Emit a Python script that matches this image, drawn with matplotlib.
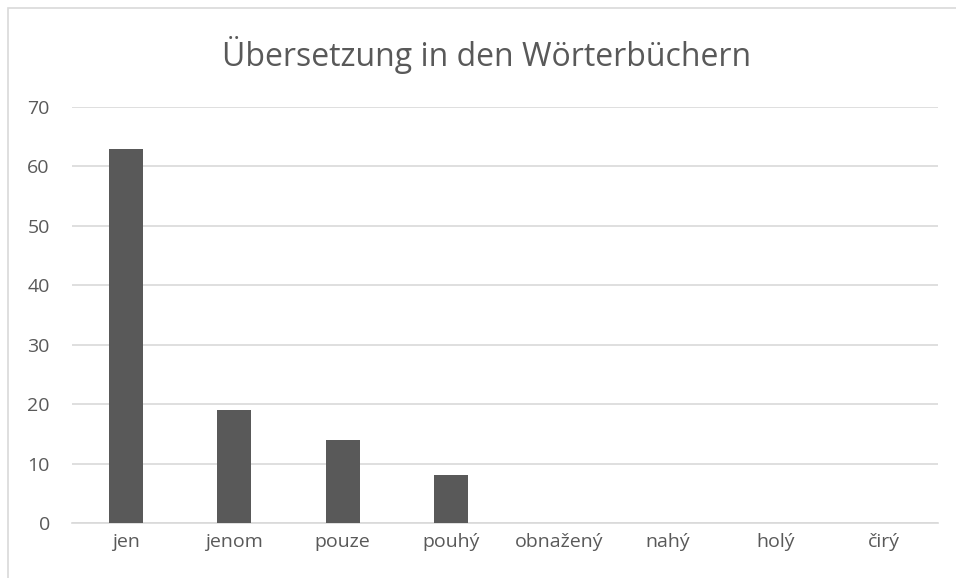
import matplotlib.pyplot as plt
from matplotlib.patches import Rectangle

categories = ['jen', 'jenom', 'pouze', 'pouhý', 'obnažený', 'nahý', 'holý', 'čirý']
counts = [63, 19, 14, 8, 0, 0, 0, 0]
yticks = [0, 10, 20, 30, 40, 50, 60, 70]

plt.rcParams['font.family'] = ['Open Sans', 'DejaVu Sans']
grey = '#595959'
light = '#d9d9d9'

fig = plt.figure(figsize=(9.56, 5.78), dpi=100)
ax = fig.add_axes([0.0753, 0.0952, 0.9059, 0.7197])

# outer chart border (cut off at right and bottom like the reference)
fig.patches.append(Rectangle((8 / 956, -0.1), 1.2, 1 - 8 / 578 + 0.1,
                             transform=fig.transFigure, fill=False,
                             edgecolor=light, linewidth=1.2))

x = range(len(categories))
ax.bar(x, counts, width=0.315, color=grey, zorder=3)

ax.set_xlim(-0.5, len(categories) - 0.5)
ax.set_ylim(0, 70)
ax.set_yticks(yticks)
ax.set_xticks(list(x))
ax.set_xticklabels(categories)
ax.yaxis.grid(True, color=light, linewidth=1.2, zorder=0)
ax.tick_params(length=0, labelsize=14, labelcolor=grey)
ax.tick_params(axis='x', pad=7)
ax.tick_params(axis='y', pad=16)
for s in ['top', 'right', 'left']:
    ax.spines[s].set_visible(False)
ax.spines['bottom'].set_color(light)
ax.spines['bottom'].set_linewidth(1.2)

fig.text(0.509, 0.905, 'Übersetzung in den Wörterbüchern', ha='center',
         va='center', fontsize=23, color=grey)

fig.savefig('out.png', dpi=100)
